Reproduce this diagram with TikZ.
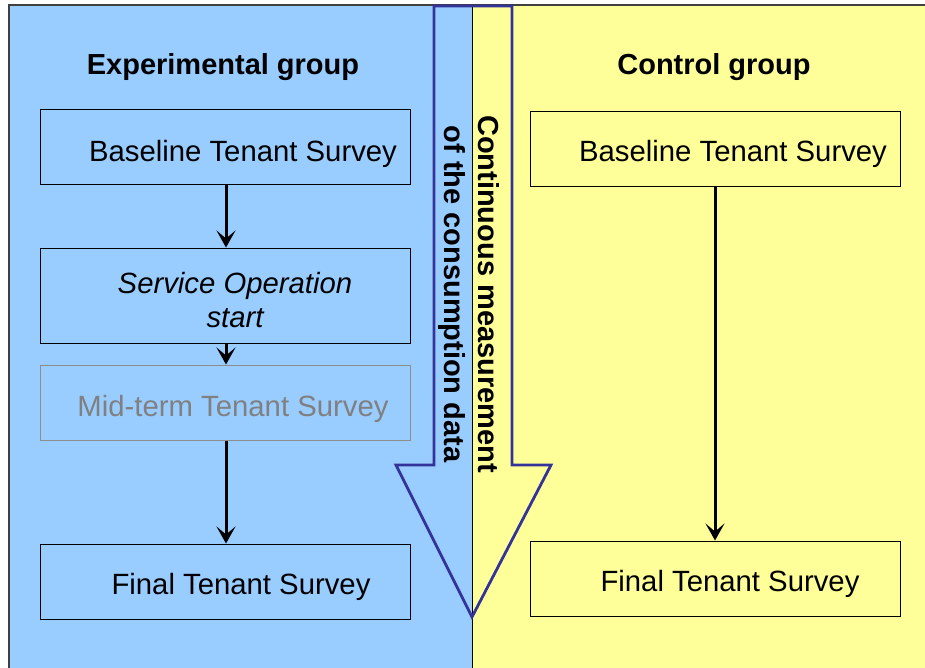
\documentclass[tikz,border=0pt]{standalone}
\usepackage{fontspec}
\setmainfont{Liberation Sans}
\usetikzlibrary{arrows.meta}
\definecolor{panelblue}{HTML}{99CCFF}
\definecolor{panelyellow}{HTML}{FFFF99}
\definecolor{arrowblue}{HTML}{333399}
\definecolor{midgray}{HTML}{808080}
\definecolor{bordergray}{HTML}{404040}
\tikzset{
  stagebox/.style={draw=black, line width=1pt, minimum width=370pt, minimum height=75pt, inner sep=0pt},
  graybox/.style={stagebox, draw=midgray!90},
  boxtext/.style={font=\fontsize{29.3}{34}\selectfont, inner sep=0pt, anchor=base},
  header/.style={font=\fontsize{29}{34}\selectfont\bfseries, inner sep=0pt, anchor=base},
  conn/.style={draw=black, line width=3pt, -{Stealth[length=17pt,width=19pt,inset=8pt]}},
}
\begin{document}
\begin{tikzpicture}[x=1pt,y=-1pt]
\useasboundingbox (0,0) rectangle (925,668);
\begin{scope}
\clip (0,0) rectangle (925,668);
% panels
\fill[panelblue] (9,5) rectangle (472,680);
\fill[panelyellow] (472,5) rectangle (940,680);
\draw[bordergray, line width=2pt] (9,680) -- (9,5) -- (940,5);
\draw[black, line width=1pt] (472,5) -- (472,680);
\end{scope}
% big arrow
\draw[arrowblue, line width=2.8pt, line join=miter]
  (434,6) -- (512,6) -- (512,465) -- (551,465) -- (472,617) -- (396,465) -- (434,465) -- cycle;
\node[font=\fontsize{29}{34}\selectfont\bfseries, rotate=-90, align=center, inner sep=0pt] (meas) at (469,294)
  {Continuous measurement\\of the consumption data};
% headers
\node[header] (hexp) at (223,75) {Experimental group};
\node[header] (hctl) at (714,75) {Control group};
% experimental boxes
\node[stagebox] (eb) at (225,147.5) {};
\node[stagebox, minimum height=95pt] (es) at (225,295.5) {};
\node[graybox] (em) at (225,402.5) {};
\node[stagebox] (ef) at (225,581.5) {};
\node[boxtext] (ebt) at (243,162) {Baseline Tenant Survey};
\node[font=\fontsize{29.3}{34}\selectfont\itshape, align=center, inner sep=0pt] (est) at (235,300) {Service Operation\\start};
\node[boxtext, text=midgray] (emt) at (233,416) {Mid-term Tenant Survey};
\node[boxtext] (eft) at (241,594) {Final Tenant Survey};
% control boxes
\node[stagebox] (cb) at (715,149.5) {};
\node[stagebox] (cf) at (715,578.5) {};
\node[boxtext] (cbt) at (733,162) {Baseline Tenant Survey};
\node[boxtext] (cft) at (730,591) {Final Tenant Survey};
% connectors
\draw[conn] ([xshift=1pt]eb.south) -- ([xshift=1pt]es.north);
\draw[conn] ([xshift=1pt]es.south) -- ([xshift=1pt]em.north);
\draw[conn] ([xshift=1pt]em.south) -- ([xshift=1pt]ef.north);
\draw[conn] (cb.south) -- (cf.north);
\end{tikzpicture}
\end{document}
